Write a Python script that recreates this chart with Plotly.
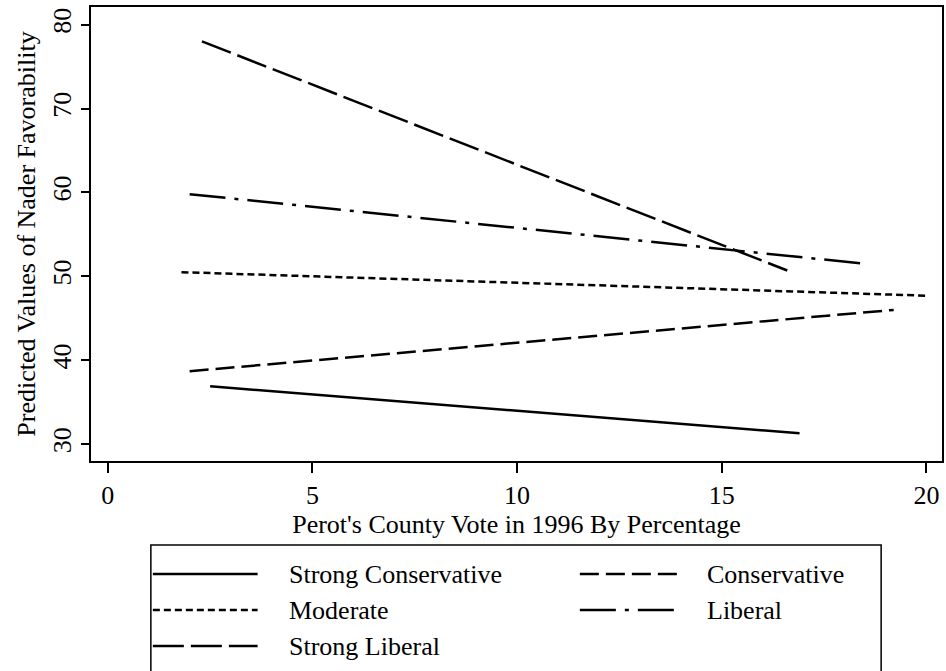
import plotly.graph_objects as go

# Predicted Nader favorability by respondent ideology, across Perot's 1996 county vote share
ideology = ["Strong Conservative", "Conservative", "Moderate", "Liberal", "Strong Liberal"]
perot_low = [2.5, 2.0, 1.8, 2.0, 2.3]
perot_high = [16.9, 19.2, 20.0, 18.5, 16.6]
fav_at_low = [36.9, 38.7, 50.5, 59.8, 78.0]
fav_at_high = [31.3, 46.0, 47.7, 51.5, 50.7]

x_ticks = [0, 5, 10, 15, 20]
y_ticks = [30, 40, 50, 60, 70, 80]

dashes = ["solid", "19px,7px", "7px,4px", "36px,9px,4px,9px", "31px,7px"]

FONT = "Liberation Serif"
W, H = 946, 671
ML, MR, MT, MB = 91, 2, 7, 210
PW, PH = W - ML - MR, H - MT - MB


def px_x(x):
    return (x - ML) / PW


def px_y(y):
    return (H - MB - y) / PH


fig = go.Figure()
for name, x0, x1, y0, y1, d in zip(ideology, perot_low, perot_high, fav_at_low, fav_at_high, dashes):
    fig.add_trace(go.Scatter(
        x=[x0, x1], y=[y0, y1], mode="lines", name=name, showlegend=False,
        line=dict(color="black", width=2.5, dash=d),
    ))

# Legend box below the plot; it runs past the bottom edge of the page
shapes = [dict(type="rect", xref="paper", yref="paper",
               x0=px_x(151), x1=px_x(883), y0=px_y(545), y1=px_y(700),
               line=dict(color="black", width=1.5), fillcolor="white")]
annotations = []
rows = [574, 610, 646]
cols = [(153, 258, 287), (581, 680, 706)]
for i, (name, d) in enumerate(zip(ideology, dashes)):
    r, c = divmod(i, 2)
    sx0, sx1, tx = cols[c]
    yy = rows[r]
    shapes.append(dict(type="line", xref="paper", yref="paper",
                       x0=px_x(sx0), x1=px_x(sx1), y0=px_y(yy), y1=px_y(yy),
                       line=dict(color="black", width=2.5, dash=d)))
    annotations.append(dict(xref="paper", yref="paper", x=px_x(tx), y=px_y(yy),
                            text=name, showarrow=False, xanchor="left", yanchor="middle",
                            font=dict(family=FONT, size=26, color="black")))

fig.update_layout(
    width=W, height=H,
    margin=dict(l=ML, r=MR, t=MT, b=MB),
    paper_bgcolor="white", plot_bgcolor="white",
    font=dict(family=FONT, size=26, color="black"),
    shapes=shapes, annotations=annotations,
    xaxis=dict(
        range=[-0.41, 20.38], tickvals=x_ticks, ticktext=[str(v) for v in x_ticks],
        ticks="outside", ticklen=10, tickwidth=1.5, tickcolor="black",
        showline=True, linecolor="black", linewidth=2, mirror=True,
        showgrid=False, zeroline=False,
        title=dict(text="Perot's County Vote in 1996 By Percentage", standoff=0,
                   font=dict(family=FONT, size=26)),
        tickfont=dict(family=FONT, size=26),
    ),
    yaxis=dict(
        range=[28.0, 82.1], tickvals=y_ticks, ticktext=[str(v) for v in y_ticks],
        tickangle=-90,
        ticks="outside", ticklen=8, tickwidth=1.5, tickcolor="black",
        showline=True, linecolor="black", linewidth=2, mirror=True,
        showgrid=False, zeroline=False,
        title=dict(text="Predicted Values of Nader Favorability", standoff=4,
                   font=dict(family=FONT, size=26)),
        tickfont=dict(family=FONT, size=26),
    ),
)

fig.write_html("out.html")
